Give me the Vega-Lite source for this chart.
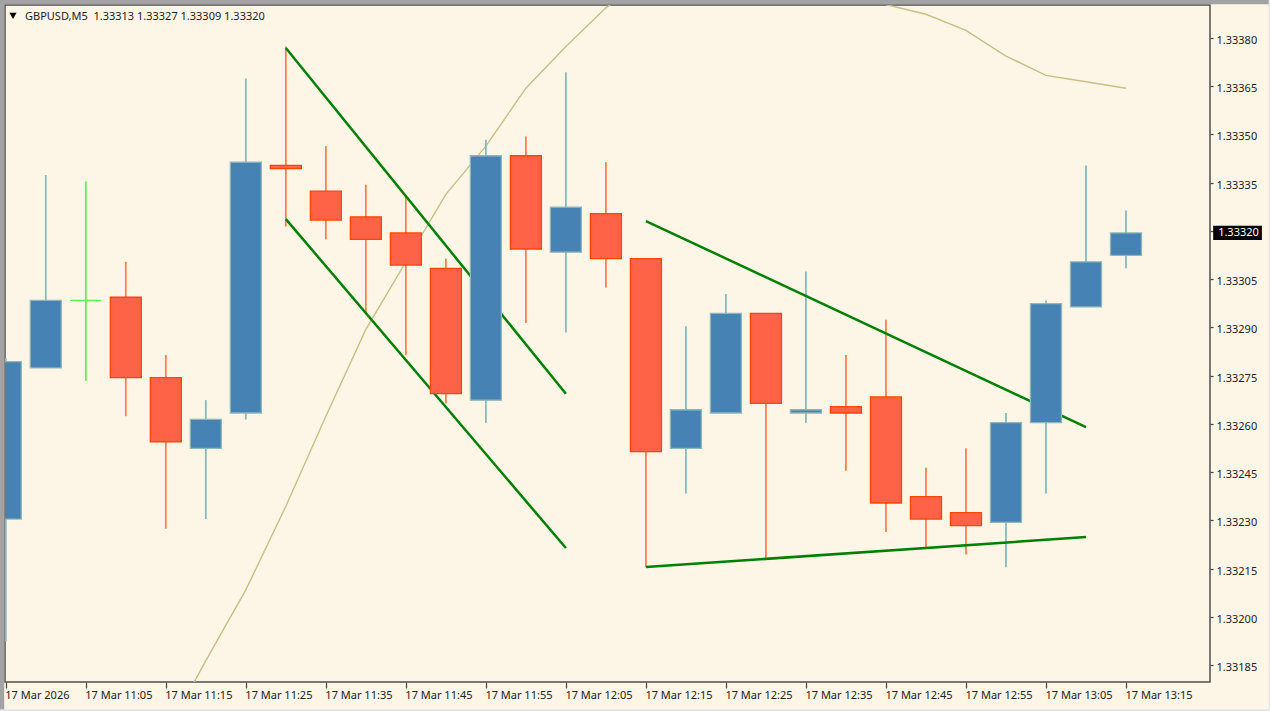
{
  "$schema": "https://vega.github.io/schema/vega-lite/v6.json",
  "width": 1205,
  "height": 677,
  "autosize": "none",
  "padding": {"left": 5, "top": 5, "right": 60, "bottom": 29},
  "background": "#FDF5E6",
  "view": {"fill": "#FDF5E6", "stroke": "#4f4f4f", "strokeWidth": 1.5},
  "config": {"font": "Noto Sans"},
  "datasets": {
    "candles": [
      {"t": "2026-03-17T10:55:00Z", "o": 1.33231, "h": 1.33281, "l": 1.33193, "c": 1.33280, "dir": "up"},
      {"t": "2026-03-17T11:00:00Z", "o": 1.33278, "h": 1.33338, "l": 1.33278, "c": 1.33299, "dir": "up"},
      {"t": "2026-03-17T11:05:00Z", "o": 1.33299, "h": 1.33336, "l": 1.33274, "c": 1.33299, "dir": "doji"},
      {"t": "2026-03-17T11:10:00Z", "o": 1.33300, "h": 1.33311, "l": 1.33263, "c": 1.33275, "dir": "down"},
      {"t": "2026-03-17T11:15:00Z", "o": 1.33275, "h": 1.33282, "l": 1.33228, "c": 1.33255, "dir": "down"},
      {"t": "2026-03-17T11:20:00Z", "o": 1.33253, "h": 1.33268, "l": 1.33231, "c": 1.33262, "dir": "up"},
      {"t": "2026-03-17T11:25:00Z", "o": 1.33264, "h": 1.33368, "l": 1.33262, "c": 1.33342, "dir": "up"},
      {"t": "2026-03-17T11:30:00Z", "o": 1.33341, "h": 1.33378, "l": 1.33322, "c": 1.33340, "dir": "down"},
      {"t": "2026-03-17T11:35:00Z", "o": 1.33333, "h": 1.33347, "l": 1.33318, "c": 1.33324, "dir": "down"},
      {"t": "2026-03-17T11:40:00Z", "o": 1.33325, "h": 1.33335, "l": 1.33295, "c": 1.33318, "dir": "down"},
      {"t": "2026-03-17T11:45:00Z", "o": 1.33320, "h": 1.33331, "l": 1.33282, "c": 1.33310, "dir": "down"},
      {"t": "2026-03-17T11:50:00Z", "o": 1.33309, "h": 1.33312, "l": 1.33267, "c": 1.33270, "dir": "down"},
      {"t": "2026-03-17T11:55:00Z", "o": 1.33268, "h": 1.33349, "l": 1.33261, "c": 1.33344, "dir": "up"},
      {"t": "2026-03-17T12:00:00Z", "o": 1.33344, "h": 1.33350, "l": 1.33292, "c": 1.33315, "dir": "down"},
      {"t": "2026-03-17T12:05:00Z", "o": 1.33314, "h": 1.33370, "l": 1.33289, "c": 1.33328, "dir": "up"},
      {"t": "2026-03-17T12:10:00Z", "o": 1.33326, "h": 1.33342, "l": 1.33303, "c": 1.33312, "dir": "down"},
      {"t": "2026-03-17T12:15:00Z", "o": 1.33312, "h": 1.33312, "l": 1.33216, "c": 1.33252, "dir": "down"},
      {"t": "2026-03-17T12:20:00Z", "o": 1.33253, "h": 1.33291, "l": 1.33239, "c": 1.33265, "dir": "up"},
      {"t": "2026-03-17T12:25:00Z", "o": 1.33264, "h": 1.33301, "l": 1.33264, "c": 1.33295, "dir": "up"},
      {"t": "2026-03-17T12:30:00Z", "o": 1.33295, "h": 1.33295, "l": 1.33219, "c": 1.33267, "dir": "down"},
      {"t": "2026-03-17T12:35:00Z", "o": 1.33264, "h": 1.33308, "l": 1.33261, "c": 1.33265, "dir": "up"},
      {"t": "2026-03-17T12:40:00Z", "o": 1.33266, "h": 1.33282, "l": 1.33246, "c": 1.33264, "dir": "down"},
      {"t": "2026-03-17T12:45:00Z", "o": 1.33269, "h": 1.33293, "l": 1.33227, "c": 1.33236, "dir": "down"},
      {"t": "2026-03-17T12:50:00Z", "o": 1.33238, "h": 1.33247, "l": 1.33222, "c": 1.33231, "dir": "down"},
      {"t": "2026-03-17T12:55:00Z", "o": 1.33233, "h": 1.33253, "l": 1.33220, "c": 1.33229, "dir": "down"},
      {"t": "2026-03-17T13:00:00Z", "o": 1.33230, "h": 1.33264, "l": 1.33216, "c": 1.33261, "dir": "up"},
      {"t": "2026-03-17T13:05:00Z", "o": 1.33261, "h": 1.33299, "l": 1.33239, "c": 1.33298, "dir": "up"},
      {"t": "2026-03-17T13:10:00Z", "o": 1.33297, "h": 1.33341, "l": 1.33297, "c": 1.33311, "dir": "up"},
      {"t": "2026-03-17T13:15:00Z", "o": 1.33313, "h": 1.33327, "l": 1.33309, "c": 1.33320, "dir": "up"}
    ],
    "ma": [
      {"t": "2026-03-17T11:15:00Z", "v": 1.33164},
      {"t": "2026-03-17T11:20:00Z", "v": 1.33187},
      {"t": "2026-03-17T11:25:00Z", "v": 1.33209},
      {"t": "2026-03-17T11:30:00Z", "v": 1.33235},
      {"t": "2026-03-17T11:35:00Z", "v": 1.33263},
      {"t": "2026-03-17T11:40:00Z", "v": 1.33290},
      {"t": "2026-03-17T11:45:00Z", "v": 1.33311},
      {"t": "2026-03-17T11:50:00Z", "v": 1.33332},
      {"t": "2026-03-17T11:55:00Z", "v": 1.33347},
      {"t": "2026-03-17T12:00:00Z", "v": 1.33365},
      {"t": "2026-03-17T12:05:00Z", "v": 1.33378},
      {"t": "2026-03-17T12:10:00Z", "v": 1.33390},
      {"t": "2026-03-17T12:15:00Z", "v": 1.33399},
      {"t": "2026-03-17T12:20:00Z", "v": 1.33403},
      {"t": "2026-03-17T12:25:00Z", "v": 1.33405},
      {"t": "2026-03-17T12:30:00Z", "v": 1.33405},
      {"t": "2026-03-17T12:35:00Z", "v": 1.33401},
      {"t": "2026-03-17T12:40:00Z", "v": 1.33397},
      {"t": "2026-03-17T12:45:00Z", "v": 1.33391},
      {"t": "2026-03-17T12:50:00Z", "v": 1.33388},
      {"t": "2026-03-17T12:55:00Z", "v": 1.33383},
      {"t": "2026-03-17T13:00:00Z", "v": 1.33375},
      {"t": "2026-03-17T13:05:00Z", "v": 1.33369},
      {"t": "2026-03-17T13:10:00Z", "v": 1.33367},
      {"t": "2026-03-17T13:15:00Z", "v": 1.33365}
    ],
    "trend": [
      {"id": "a", "t": "2026-03-17T11:30:00Z", "v": 1.333775},
      {"id": "a", "t": "2026-03-17T12:05:00Z", "v": 1.33270},
      {"id": "b", "t": "2026-03-17T11:30:00Z", "v": 1.333243},
      {"id": "b", "t": "2026-03-17T12:05:00Z", "v": 1.33222},
      {"id": "c", "t": "2026-03-17T12:15:00Z", "v": 1.333237},
      {"id": "c", "t": "2026-03-17T13:10:00Z", "v": 1.332596},
      {"id": "d", "t": "2026-03-17T12:15:00Z", "v": 1.332161},
      {"id": "d", "t": "2026-03-17T13:10:00Z", "v": 1.332254}
    ],
    "bezel": [
      {"t0": "2026-03-17T10:54:16Z", "t1": "2026-03-17T10:54:48Z", "v0": 1.333924, "v1": 1.331713, "tone": "dark"},
      {"t0": "2026-03-17T10:54:16Z", "t1": "2026-03-17T13:33:02Z", "v0": 1.333924, "v1": 1.333911, "tone": "dark"},
      {"t0": "2026-03-17T13:32:50Z", "t1": "2026-03-17T13:33:02Z", "v0": 1.333924, "v1": 1.331713, "tone": "light"},
      {"t0": "2026-03-17T10:54:16Z", "t1": "2026-03-17T13:33:02Z", "v0": 1.331719, "v1": 1.331713, "tone": "light"}
    ],
    "bid": [
      {"t0": "2026-03-17T13:25:54Z", "t1": "2026-03-17T13:31:59Z", "v0": 1.333222, "v1": 1.333178}
    ],
    "marker": [
      {"t": "2026-03-17T10:55:54Z", "v": 1.333875}
    ],
    "labels": [
      {"t": "2026-03-17T10:57:24Z", "v": 1.333872, "text": "GBPUSD,M5\u00a0 1.33313 1.33327 1.33309 1.33320", "kind": "header"},
      {"t": "2026-03-17T13:26:31Z", "v": 1.3332, "text": "1.33320", "kind": "bid"}
    ]
  },
  "data": {"name": "candles"},
  "layer": [
    {
      "data": {"name": "bezel"},
      "mark": {"type": "rect"},
      "encoding": {
        "x": {
          "field": "t0",
          "type": "temporal",
          "title": null,
          "scale": {"type": "utc", "domain": ["2026-03-17T10:54:54Z", "2026-03-17T13:25:30Z"], "nice": false, "padding": 0},
          "axis": {
            "values": ["2026-03-17T10:55:00Z", "2026-03-17T11:05:00Z", "2026-03-17T11:15:00Z", "2026-03-17T11:25:00Z", "2026-03-17T11:35:00Z", "2026-03-17T11:45:00Z", "2026-03-17T11:55:00Z", "2026-03-17T12:05:00Z", "2026-03-17T12:15:00Z", "2026-03-17T12:25:00Z", "2026-03-17T12:35:00Z", "2026-03-17T12:45:00Z", "2026-03-17T12:55:00Z", "2026-03-17T13:05:00Z", "2026-03-17T13:15:00Z"],
            "labelExpr": "datum.index == 0 ? '17 Mar 2026' : utcFormat(datum.value, '%d %b %H:%M')",
            "grid": false,
            "domain": false,
            "tickColor": "#444444",
            "tickSize": 6,
            "tickWidth": 1.2,
            "labelAlign": "left",
            "labelBaseline": "top",
            "labelPadding": 1,
            "labelFontSize": 11,
            "labelOffset": -1,
            "labelColor": "#222222",
            "labelFlush": false,
            "labelBound": false,
            "labelOverlap": false
          }
        },
        "x2": {"field": "t1"},
        "y": {
          "field": "v0",
          "type": "quantitative",
          "title": null,
          "scale": {"domain": [1.3318034, 1.3339088], "nice": false, "zero": false},
          "axis": {
            "orient": "right",
            "values": [1.33185, 1.332, 1.33215, 1.3323, 1.33245, 1.3326, 1.33275, 1.3329, 1.33305, 1.3332, 1.33335, 1.3335, 1.33365, 1.3338],
            "labelExpr": "abs(datum.value - 1.3332) < 0.0000001 ? '' : format(datum.value, '.5f')",
            "grid": false,
            "domain": false,
            "tickColor": "#444444",
            "tickSize": 3,
            "tickWidth": 1.2,
            "tickOffset": -2,
            "labelOffset": 2.5,
            "labelPadding": 3,
            "labelFontSize": 11,
            "labelColor": "#222222",
            "labelFlush": false,
            "labelBound": false,
            "labelOverlap": false
          }
        },
        "y2": {"field": "v1"},
        "color": {
          "field": "tone",
          "type": "nominal",
          "scale": {"domain": ["dark", "light"], "range": ["#a3a3a3", "#e4e4e4"]},
          "legend": null
        }
      }
    },
    {
      "data": {"name": "ma"},
      "mark": {"type": "line", "clip": true, "color": "#C9BF84", "strokeWidth": 1.4},
      "encoding": {
        "x": {"field": "t", "type": "temporal"},
        "y": {"field": "v", "type": "quantitative"}
      }
    },
    {
      "mark": {"type": "rule", "strokeWidth": 1.8},
      "encoding": {
        "x": {"field": "t", "type": "temporal"},
        "y": {"field": "l", "type": "quantitative"},
        "y2": {"field": "h"},
        "stroke": {
          "field": "dir",
          "type": "nominal",
          "scale": {"domain": ["up", "down", "doji"], "range": ["#8DB7B8", "#FF7F50", "#55F555"]},
          "legend": null
        }
      }
    },
    {
      "data": {"name": "trend"},
      "mark": {"type": "line", "color": "#008000", "strokeWidth": 2.5},
      "encoding": {
        "x": {"field": "t", "type": "temporal"},
        "y": {"field": "v", "type": "quantitative"},
        "detail": {"field": "id"}
      }
    },
    {
      "mark": {"type": "bar", "size": 31, "clip": true, "strokeWidth": 1.3},
      "encoding": {
        "x": {"field": "t", "type": "temporal"},
        "y": {"field": "o", "type": "quantitative"},
        "y2": {"field": "c"},
        "fill": {
          "field": "dir",
          "type": "nominal",
          "scale": {"domain": ["up", "down", "doji"], "range": ["#4682B4", "#FF6347", "#55F555"]},
          "legend": null
        },
        "stroke": {
          "field": "dir",
          "type": "nominal",
          "scale": {"domain": ["up", "down", "doji"], "range": ["#8DB7B8", "#FF4500", "#55F555"]},
          "legend": null
        }
      }
    },
    {
      "data": {"name": "bid"},
      "mark": {"type": "rect", "color": "#000000"},
      "encoding": {
        "x": {"field": "t0", "type": "temporal"},
        "x2": {"field": "t1"},
        "y": {"field": "v0", "type": "quantitative"},
        "y2": {"field": "v1"}
      }
    },
    {
      "data": {"name": "marker"},
      "mark": {"type": "point", "shape": "triangle-down", "filled": true, "color": "#000000", "size": 50, "opacity": 1},
      "encoding": {
        "x": {"field": "t", "type": "temporal"},
        "y": {"field": "v", "type": "quantitative"}
      }
    },
    {
      "data": {"name": "labels"},
      "mark": {"type": "text", "align": "left", "baseline": "middle", "fontSize": 11},
      "encoding": {
        "x": {"field": "t", "type": "temporal"},
        "y": {"field": "v", "type": "quantitative"},
        "text": {"field": "text"},
        "color": {
          "field": "kind",
          "type": "nominal",
          "scale": {"domain": ["header", "bid"], "range": ["#222222", "#ffffff"]},
          "legend": null
        }
      }
    }
  ],
  "resolve": {"scale": {"stroke": "independent", "color": "independent"}}
}
